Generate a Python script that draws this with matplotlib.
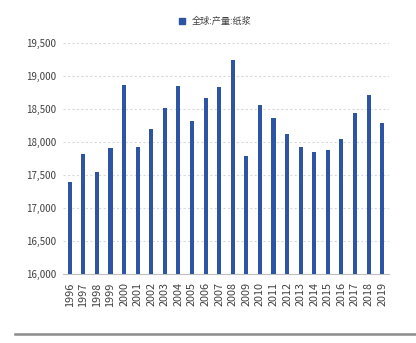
import numpy as np
import matplotlib
matplotlib.use("Agg")
from matplotlib import pyplot as plt
from matplotlib.lines import Line2D

plt.rcParams["font.family"] = ["Noto Sans CJK SC", "DejaVu Sans"]

years = [str(y) for y in range(1996, 2020)]
pulp = [17400, 17820, 17550, 17910, 18860, 17930, 18200, 18510, 18850, 18320,
        18660, 18830, 19240, 17790, 18560, 18370, 18120, 17930, 17850, 17880,
        18050, 18440, 18710, 18290]
series_name = "全球:产量:纸浆"
bar_color = "#2E54A4"

fig = plt.figure(figsize=(4.16, 3.43), dpi=100)
ax = fig.add_axes([0.1514, 0.2012, 0.7836, 0.6734])

x = np.arange(len(years))
ax.bar(x, pulp, width=0.3, color=bar_color, zorder=3)

ax.set_xlim(-0.5, len(years) - 0.5)
ax.set_ylim(16000, 19500)
ax.set_yticks(np.arange(16000, 19501, 500))
ax.yaxis.set_major_formatter(matplotlib.ticker.StrMethodFormatter("{x:,.0f}"))
ax.set_xticks(x)
ax.set_xticklabels(years, rotation=90)
ax.tick_params(axis="both", length=0, colors="#404040")
ax.tick_params(axis="y", pad=5, labelsize=7)
ax.tick_params(axis="x", pad=6, labelsize=7.8)

ax.grid(axis="y", color="#D9D9D9", linestyle=(0, (2, 2)), linewidth=0.8, zorder=0)
for side in ("top", "right", "left"):
    ax.spines[side].set_visible(False)
ax.spines["bottom"].set_color("#BFBFBF")
ax.spines["bottom"].set_linewidth(0.8)

handle = Line2D([], [], marker="s", linestyle="none", markersize=5,
                markerfacecolor=bar_color, markeredgecolor=bar_color)
fig.legend([handle], [series_name], loc="center", bbox_to_anchor=(0.51, 0.938),
           frameon=False, fontsize=6.6, handletextpad=0.1, borderpad=0,
           labelcolor="#404040")

# footer rule
fig.add_artist(Line2D([15 / 416, 1.0], [1 - 334 / 343] * 2, color="#8C8C8C",
                      linewidth=1.8))

fig.savefig("out.png", dpi=100)
